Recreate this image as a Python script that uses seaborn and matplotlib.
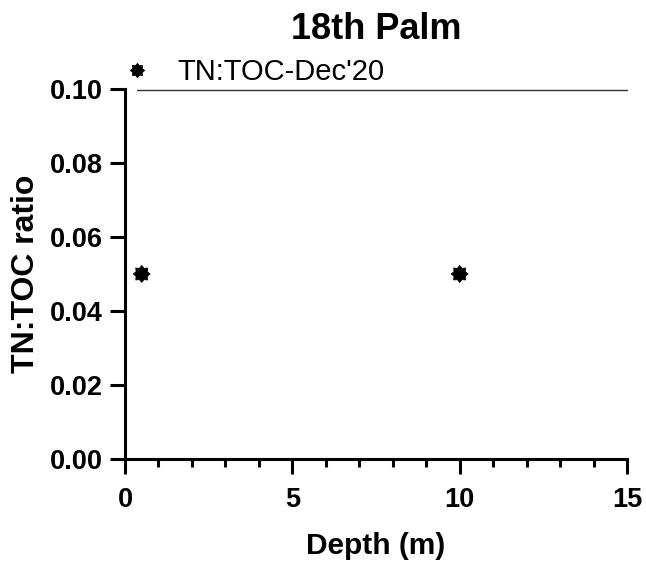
import matplotlib
matplotlib.use("Agg")
import matplotlib.pyplot as plt
import seaborn as sns
import pandas as pd
import numpy as np
from matplotlib.path import Path
from matplotlib.ticker import MultipleLocator, FormatStrFormatter

depth = [0.5, 10]
ratio = [0.05, 0.05]
series = ["TN:TOC-Dec'20", "TN:TOC-Dec'20"]
x_ticks = [0, 5, 10, 15]
y_ticks = [0.00, 0.02, 0.04, 0.06, 0.08, 0.10]

df = pd.DataFrame({"Depth": depth, "Ratio": ratio, "Series": series})

sns.set_theme(style="ticks")
plt.rcParams['font.family'] = ['Liberation Sans', 'DejaVu Sans']
plt.rcParams['text.color'] = 'black'
plt.rcParams['axes.labelcolor'] = 'black'
plt.rcParams['xtick.color'] = 'black'
plt.rcParams['ytick.color'] = 'black'

fig = plt.figure(figsize=(6.46, 5.61), dpi=100)
ax = fig.add_axes([0.1935, 0.1818, 0.9706 - 0.1935, 0.8414 - 0.1818])

star = Path.unit_regular_star(8, 0.72)
sns.scatterplot(data=df, x="Depth", y="Ratio", hue="Series", palette=["black"],
                marker=star, s=150, edgecolor="black", linewidth=0.5, ax=ax,
                clip_on=False, zorder=5)

ax.set_xlim(0, 15)
ax.set_ylim(0, 0.10)
ax.set_xticks(x_ticks)
ax.set_yticks(y_ticks)
ax.xaxis.set_minor_locator(MultipleLocator(1))
ax.yaxis.set_major_formatter(FormatStrFormatter('%.2f'))

for s in ["top", "right"]:
    ax.spines[s].set_visible(False)
for s in ["left", "bottom"]:
    ax.spines[s].set_linewidth(2.2)
    ax.spines[s].set_color("black")

ax.tick_params(axis="both", which="major", length=11, width=2.2, color="black",
               labelsize=19.5, labelcolor="black")
ax.tick_params(axis="x", which="major", pad=9)
ax.tick_params(axis="y", which="major", pad=5)
ax.tick_params(axis="x", which="minor", length=5.5, width=2.2, color="black")
for lab in ax.get_xticklabels() + ax.get_yticklabels():
    lab.set_fontweight("bold")

ax.set_xlabel("Depth (m)", fontsize=21.5, fontweight="bold", labelpad=14, color="black")
ax.set_ylabel("TN:TOC ratio", fontsize=23, fontweight="bold", labelpad=6, color="black")
ax.set_title("18th Palm", fontsize=26, fontweight="bold", pad=36, color="black")

# thin line at top
ax.plot([0.024, 1.0], [0.9985, 0.9985], transform=ax.transAxes, color="#333333",
        lw=1.0, clip_on=False)

leg = ax.legend(loc="center left", bbox_to_anchor=(0.0, 1.045), frameon=False,
                fontsize=21, handlelength=0.8, handletextpad=1.0,
                borderpad=0, borderaxespad=0, markerscale=0.85)
for t in leg.get_texts():
    t.set_color("black")

fig.savefig("out.png", dpi=100)
